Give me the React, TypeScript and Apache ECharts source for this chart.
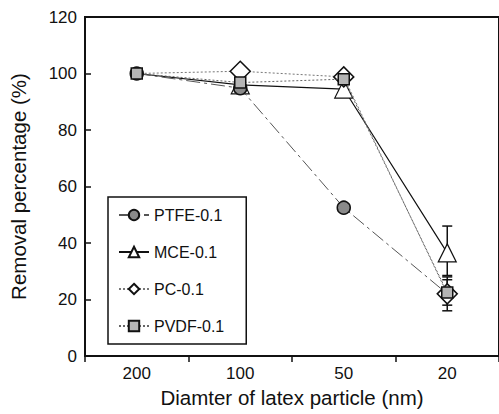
import React, { useEffect, useRef } from "react";
import * as echarts from "echarts";

const categories = ["200", "100", "50", "20"];
const ptfe = [100, 94.8, 52.5, 22];
const mce = [100, 96, 94.5, 36.5];
const pc = [100, 100.8, 98.8, 22];
const pvdf = [100, 96.8, 98, 22.5];
// error bars: [category index, low, high]
const errorBars = [
  [3, 28.5, 46],
  [3, 16, 28],
  [3, 18, 27],
  [3, 20.5, 23.5],
];

export default function App() {
  const ref = useRef<HTMLDivElement>(null);
  useEffect(() => {
    if (!ref.current) return;
    const chart = echarts.init(ref.current, null, { renderer: "svg" });
    const font = "Liberation Sans, Arial, sans-serif";
    const hideFirst = (arr: number[]) =>
      arr.map((v, i) => (i === 0 ? { value: v, symbol: "none" } : v));
    chart.setOption({
      animation: false,
      backgroundColor: "#fff",
      textStyle: { fontFamily: font },
      grid: {
        left: 80,
        right: -1,
        top: 17,
        bottom: 58,
        show: true,
        borderColor: "#111",
        borderWidth: 2,
      },
      legend: {
        orient: "vertical",
        left: 108,
        top: 197,
        padding: [10, 22, 10, 10],
        itemWidth: 30,
        itemHeight: 13,
        itemGap: 21,
        borderColor: "#111",
        borderWidth: 1.5,
        backgroundColor: "#fff",
        textStyle: { fontSize: 16, color: "#111", fontFamily: font },
        data: ["PTFE-0.1", "MCE-0.1", "PC-0.1", "PVDF-0.1"],
      },
      xAxis: {
        type: "category",
        data: categories,
        boundaryGap: true,
        name: "Diamter of latex particle (nm)",
        nameLocation: "middle",
        nameGap: 31,
        nameTextStyle: { fontSize: 20.5, color: "#111", fontFamily: font },
        axisLine: { lineStyle: { color: "#111", width: 2 } },
        axisTick: { show: true, inside: false, length: 6, lineStyle: { color: "#111", width: 1.5 } },
        axisLabel: { fontSize: 17, color: "#111", margin: 9, fontFamily: font },
        splitLine: { show: false },
      },
      yAxis: {
        type: "value",
        min: 0,
        max: 120,
        interval: 20,
        name: "Removal percentage (%)",
        nameLocation: "middle",
        nameGap: 56,
        nameRotate: 90,
        nameTextStyle: { fontSize: 20.5, color: "#111", fontFamily: font },
        axisLine: { show: true, lineStyle: { color: "#111", width: 2 } },
        axisTick: { show: true, inside: true, length: 6, lineStyle: { color: "#111", width: 1.5 } },
        axisLabel: { fontSize: 17, color: "#111", margin: 8, fontFamily: font },
        splitLine: { show: false },
      },
      series: [
        {
          type: "custom",
          name: "err",
          z: 1,
          silent: true,
          data: errorBars,
          renderItem: (params: any, api: any) => {
            const x = api.coord([api.value(0), api.value(1)])[0];
            const yLow = api.coord([api.value(0), api.value(1)])[1];
            const yHigh = api.coord([api.value(0), api.value(2)])[1];
            const w = 5;
            const style = { stroke: "#111", lineWidth: 1.5 };
            return {
              type: "group",
              children: [
                { type: "line", shape: { x1: x, y1: yLow, x2: x, y2: yHigh }, style },
                { type: "line", shape: { x1: x - w, y1: yLow, x2: x + w, y2: yLow }, style },
                { type: "line", shape: { x1: x - w, y1: yHigh, x2: x + w, y2: yHigh }, style },
              ],
            };
          },
        },
        {
          name: "PTFE-0.1",
          type: "line",
          data: ptfe,
          z: 3,
          symbol: "circle",
          symbolSize: 13,
          lineStyle: { color: "#555", width: 1, type: [14, 4, 3, 4] },
          itemStyle: { color: "#8a8a8a", borderColor: "#111", borderWidth: 1.5 },
        },
        {
          name: "MCE-0.1",
          type: "line",
          data: hideFirst(mce),
          z: 2,
          symbol: "triangle",
          symbolSize: 18,
          lineStyle: { color: "#111", width: 1.2, type: "solid" },
          itemStyle: { color: "#fff", borderColor: "#111", borderWidth: 1.2 },
        },
        {
          name: "PC-0.1",
          type: "line",
          data: hideFirst(pc),
          z: 4,
          symbol: "diamond",
          symbolSize: 20,
          lineStyle: { color: "#777", width: 1, type: [2, 2] },
          itemStyle: { color: "#fff", borderColor: "#111", borderWidth: 1.5 },
        },
        {
          name: "PVDF-0.1",
          type: "line",
          data: pvdf,
          z: 5,
          symbol: "rect",
          symbolSize: 11,
          lineStyle: { color: "#666", width: 1, type: [2, 2] },
          itemStyle: { color: "#b5b5b5", borderColor: "#111", borderWidth: 1.5 },
        },
      ],
    });
    return () => chart.dispose();
  }, []);
  return (
    <div
      ref={ref}
      style={{ position: "fixed", left: 0, top: 0, width: 499, height: 414, background: "#fff" }}
    />
  );
}
